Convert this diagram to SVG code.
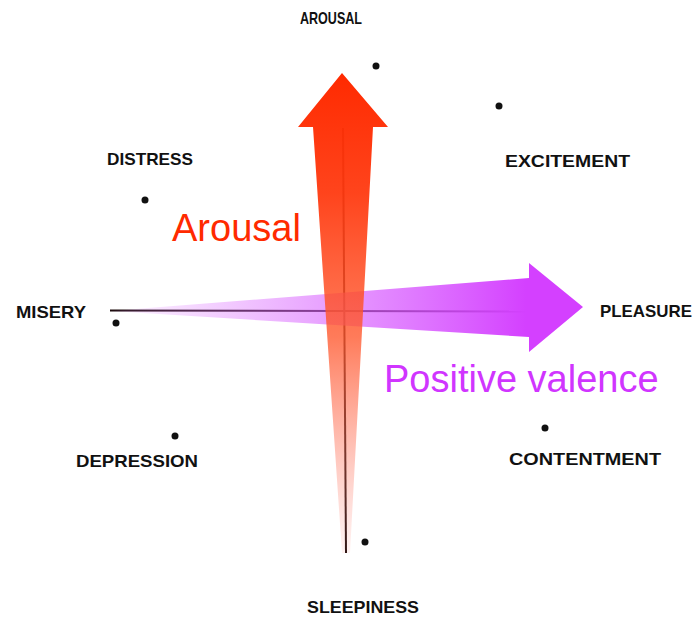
<svg xmlns="http://www.w3.org/2000/svg" width="697" height="622" viewBox="0 0 697 622">
  <style>
    .lbl { font-family: "Liberation Sans", Arial, sans-serif; font-weight: bold; font-size: 17px; fill: #111; }
    .dot { fill: #111; }
    .axis { stroke: #1a0a0a; stroke-width: 2; fill: none; }
    .big { font-family: "Liberation Sans", Arial, sans-serif; font-size: 38px; }
  </style>
  <defs>
    <linearGradient id="gRed" x1="0" y1="73" x2="0" y2="553" gradientUnits="userSpaceOnUse">
      <stop offset="0" stop-color="#ff2a00" stop-opacity="1"/>
      <stop offset="0.25" stop-color="#ff3a10" stop-opacity="0.95"/>
      <stop offset="0.55" stop-color="#ff5a30" stop-opacity="0.8"/>
      <stop offset="1" stop-color="#ff8a80" stop-opacity="0.1"/>
    </linearGradient>
    <linearGradient id="gPur" x1="110" y1="0" x2="583" y2="0" gradientUnits="userSpaceOnUse">
      <stop offset="0" stop-color="#e080ff" stop-opacity="0.1"/>
      <stop offset="0.5" stop-color="#d860ff" stop-opacity="0.65"/>
      <stop offset="0.88" stop-color="#d440ff" stop-opacity="1"/>
      <stop offset="1" stop-color="#d440ff" stop-opacity="1"/>
    </linearGradient>
  </defs>

  <g id="axes">
    <path class="axis" d="M110 310.5 L530 311.5"/>
    <path class="axis" d="M343 128 L346 553"/>
  </g>

  <g id="valence-arrow">
    <path d="M110 311 L529 278 L529 263 L583 307 L529 352 L529 337 Z" fill="url(#gPur)"/>
  </g>
  <g id="arousal-arrow">
    <path d="M342 73 L388 127 L373 127 L350 553 L342 553 L313 127 L298 127 Z" fill="url(#gRed)"/>
  </g>

  <g id="dots">
    <circle class="dot" cx="376" cy="66" r="3.5"/>
    <circle class="dot" cx="499" cy="106" r="3.5"/>
    <circle class="dot" cx="145" cy="200" r="3.5"/>
    <circle class="dot" cx="116" cy="323" r="3.5"/>
    <circle class="dot" cx="175" cy="436" r="3.5"/>
    <circle class="dot" cx="545" cy="428" r="3.5"/>
    <circle class="dot" cx="365" cy="542" r="3.5"/>
  </g>

  <g id="labels">
    <text id="n-arousal" class="lbl" x="300" y="24" textLength="62" lengthAdjust="spacingAndGlyphs">AROUSAL</text>
    <text id="n-distress" class="lbl" x="107" y="165" textLength="86" lengthAdjust="spacingAndGlyphs">DISTRESS</text>
    <text id="n-excitement" class="lbl" x="505" y="167" textLength="125" lengthAdjust="spacingAndGlyphs">EXCITEMENT</text>
    <text id="n-misery" class="lbl" x="16" y="318" textLength="70" lengthAdjust="spacingAndGlyphs">MISERY</text>
    <text id="n-pleasure" class="lbl" x="600" y="317" textLength="92" lengthAdjust="spacingAndGlyphs">PLEASURE</text>
    <text id="n-depression" class="lbl" x="76" y="467" textLength="122" lengthAdjust="spacingAndGlyphs">DEPRESSION</text>
    <text id="n-contentment" class="lbl" x="509" y="465" textLength="152" lengthAdjust="spacingAndGlyphs">CONTENTMENT</text>
    <text id="n-sleepiness" class="lbl" x="307" y="613" textLength="112" lengthAdjust="spacingAndGlyphs">SLEEPINESS</text>
  </g>

  <g id="axis-titles">
    <text class="big" x="172" y="241" fill="#ff2a00">Arousal</text>
    <text class="big" x="384" y="392" fill="#d035ff">Positive valence</text>
  </g>
</svg>
